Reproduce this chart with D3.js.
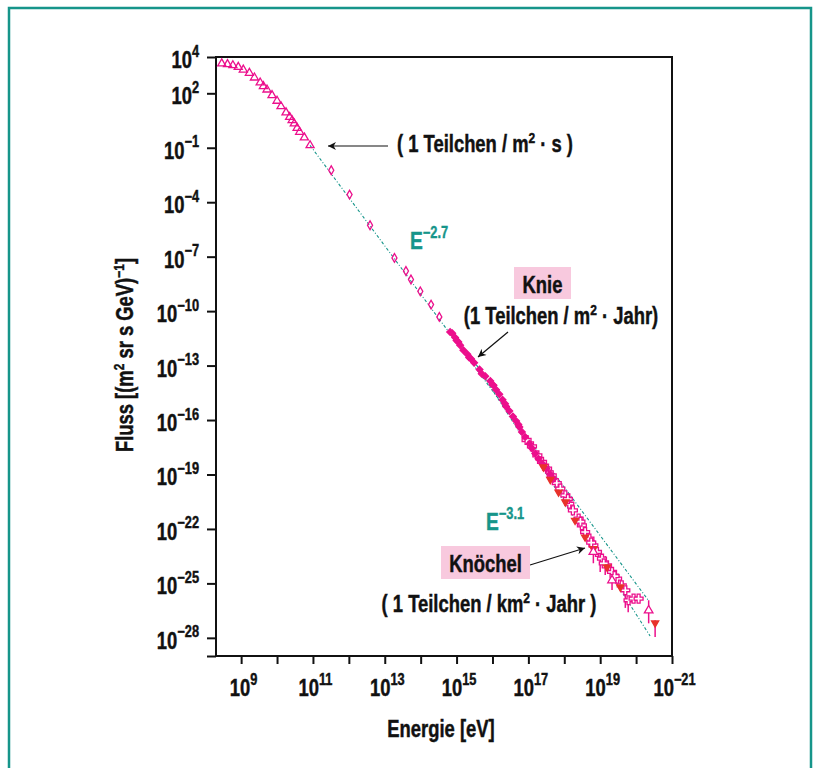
<!DOCTYPE html>
<html>
<head>
<meta charset="utf-8">
<script src="https://cdn.jsdelivr.net/npm/d3@7"></script>
<style>
  body { margin: 0; background: #fff; }
  svg text { font-family: 'Liberation Sans', Arial, Helvetica, sans-serif; font-weight: bold; }
  svg text.ink { stroke: #111; stroke-width: 0.45; }
</style>
</head>
<body>
<div id="vis-container"></div>
<script>
// values, as log10(E / eV) and log10(flux)
const lowTriangles = [
  [8.46, 3.64], [8.62, 3.60], [8.77, 3.54], [8.92, 3.45], [9.06, 3.30], [9.23, 3.12],
  [9.37, 2.86], [9.53, 2.59], [9.62, 2.39], [9.72, 2.20], [9.86, 1.89], [10.00, 1.58],
  [10.11, 1.28], [10.25, 0.94], [10.35, 0.69], [10.42, 0.51], [10.48, 0.33], [10.56, 0.09],
  [10.63, -0.13], [10.76, -0.44], [10.92, -0.87]
];
const diamonds = [
  [11.51, -2.24], [12.02, -3.58], [12.59, -5.27], [13.27, -7.07], [13.59, -7.79],
  [13.73, -8.26], [13.99, -8.91], [14.29, -9.64], [14.52, -10.32]
];
const filledPts = [
  [14.82, -11.15], [14.96, -11.46], [15.05, -11.70], [15.10, -11.88], [15.19, -12.16],
  [15.30, -12.38], [15.40, -12.62], [15.49, -12.84], [15.64, -13.22], [15.80, -13.59],
  [15.94, -13.85], [16.03, -14.09], [16.10, -14.33], [16.19, -14.58], [16.28, -14.88],
  [16.38, -15.25], [16.47, -15.50], [16.57, -15.80], [16.66, -16.06], [16.75, -16.39],
  [16.82, -16.66], [16.91, -16.94], [17.03, -17.30], [17.19, -17.85], [17.28, -18.13],
  [17.38, -18.40], [17.50, -18.68], [17.61, -18.99], [17.70, -19.23],
  [14.88, -11.22], [15.00, -11.62], [15.35, -12.55], [15.70, -13.45], [16.00, -14.05],
  [16.35, -15.10], [16.72, -16.25], [17.10, -17.55], [17.45, -18.60]
];
const openCrosses = [
  [16.95, -17.10], [17.10, -17.45], [17.25, -17.95], [17.38, -18.31], [17.52, -18.68],
  [17.65, -19.05], [17.79, -19.47], [17.89, -19.78], [18.03, -20.15], [18.14, -20.61],
  [18.24, -20.98], [18.40, -21.43], [18.49, -21.80], [18.58, -22.17], [18.70, -22.53],
  [18.81, -22.90], [18.91, -23.27], [19.05, -23.64], [19.19, -24.01], [19.33, -24.37],
  [19.47, -24.74], [19.60, -25.11], [19.70, -25.38], [19.79, -25.93], [19.93, -25.84],
  [20.07, -25.84], [18.10, -20.35], [18.45, -21.60], [18.75, -22.75], [19.10, -23.90],
  [19.40, -24.60]
];
const redTriangles = [
  [17.42, -18.59], [17.61, -19.28], [17.84, -19.97], [18.03, -20.52], [18.30, -21.53],
  [18.58, -22.45], [18.81, -23.09], [19.19, -24.10], [19.56, -25.20], [20.53, -27.18]
];
const highTriangles = [[18.81, -23.27], [19.33, -24.83], [20.35, -26.49]];
// error bars: [logE, low, high]
const errorBars = [
  [18.81, -23.89, -23.23], [19.00, -24.37, -23.34], [19.14, -24.54, -23.49],
  [19.33, -25.36, -24.70], [19.70, -26.35, -25.47], [19.78, -26.59, -25.93],
  [20.35, -27.20, -25.93], [20.53, -27.96, -27.03]
];
// power-law guide lines
const lineE27 = [[10.92, -0.87], [20.34, -25.93]];
const lineE31 = [[15.55, -12.95], [20.39, -27.90]];

const yTickExp = [4, 2, -1, -4, -7, -10, -13, -16, -19, -22, -25, -28, -29];
const yLabelText = ["4", "2", "−1", "−4", "−7", "−10", "−13", "−16", "−19", "−22", "−25", "−28", ""];
const xTickExp = [9, 10, 11, 12, 13, 14, 15, 16, 17, 18, 19, 20, 21];
const xLabelText = ["9", "", "11", "", "13", "", "15", "", "17", "", "19", "", "−21"];

const magenta = '#ec0f8c';
const red = '#e8322b';
const teal = '#16958a';
const narrow = 0.8; // horizontal squeeze to mimic a condensed face

const width = 819, height = 768;
const margin = {left: 216, top: 57, right: 147, bottom: 112};

const svg = d3.select('#vis-container').append('svg')
  .attr('width', width).attr('height', height);

// teal frame
svg.append('rect')
  .attr('x', 9).attr('y', 8).attr('width', 802).attr('height', 790)
  .attr('fill', 'none').attr('stroke', teal).attr('stroke-width', 2.5);

const x = d3.scaleLog().domain([10 ** 8.3, 1e21]).range([margin.left, width - margin.right]);
const y = d3.scaleLog().domain([1e-29, 1e4]).range([height - margin.bottom, margin.top]);
const px = d => x(10 ** d[0]);
const py = d => y(10 ** d[1]);

// y axis
const yAxis = svg.append('g')
  .attr('transform', `translate(${margin.left},0)`)
  .call(d3.axisLeft(y).tickValues(yTickExp.map(e => 10 ** e)).tickSize(9).tickFormat(''));
yAxis.select('.domain').remove();
yAxis.selectAll('.tick line').attr('stroke', '#111').attr('stroke-width', 2);
yAxis.selectAll('.tick text').each(function(d, i) {
  const t = d3.select(this).classed('ink', true).attr('dy', null).attr('x', 0).attr('y', 0)
    .attr('transform', `translate(-17,10.5) scale(${narrow},1)`)
    .attr('font-size', 23).attr('fill', '#111').attr('text-anchor', 'end');
  if (!yLabelText[i]) return;
  t.append('tspan').text('10');
  t.append('tspan').attr('dy', -11.5).attr('font-size', 16).text(yLabelText[i]);
});

// x axis
const xAxis = svg.append('g')
  .attr('transform', `translate(0,${height - margin.bottom})`)
  .call(d3.axisBottom(x).tickValues(xTickExp.map(e => 10 ** e)).tickSize(8).tickFormat(''));
xAxis.select('.domain').remove();
xAxis.selectAll('.tick line').attr('stroke', '#111').attr('stroke-width', 2);
xAxis.selectAll('.tick text').each(function(d, i) {
  const t = d3.select(this).classed('ink', true).attr('dy', null).attr('y', 0)
    .attr('transform', `translate(2,40) scale(${narrow},1)`)
    .attr('font-size', 23).attr('fill', '#111').attr('text-anchor', 'middle');
  if (!xLabelText[i]) return;
  t.append('tspan').text('10');
  t.append('tspan').attr('dy', -11.5).attr('font-size', 16).text(xLabelText[i]);
});

// plot frame
svg.append('rect')
  .attr('x', margin.left).attr('y', margin.top)
  .attr('width', width - margin.left - margin.right)
  .attr('height', height - margin.top - margin.bottom)
  .attr('fill', 'none').attr('stroke', '#111').attr('stroke-width', 2);

// axis titles
svg.append('text').classed('ink', true)
  .attr('transform', `translate(133,355) rotate(-90) scale(${narrow},1)`)
  .attr('text-anchor', 'middle').attr('font-size', 23).attr('fill', '#111')
  .call(t => {
    t.append('tspan').text('Fluss [(m');
    t.append('tspan').attr('dy', -9).attr('font-size', 15).text('2');
    t.append('tspan').attr('dy', 9).text(' sr s GeV)');
    t.append('tspan').attr('dy', -9).attr('font-size', 15).text('−1');
    t.append('tspan').attr('dy', 9).text(']');
  });
svg.append('text').classed('ink', true)
  .attr('transform', `translate(441,737) scale(${narrow},1)`)
  .attr('text-anchor', 'middle').attr('font-size', 23).attr('fill', '#111')
  .text('Energie [eV]');

// guide lines
const line = d3.line().x(px).y(py);
[lineE27, lineE31].forEach(l => {
  svg.append('path').attr('d', line(l))
    .attr('fill', 'none').attr('stroke', teal).attr('stroke-width', 1.1)
    .attr('stroke-dasharray', '3,2,1,2');
});

// error bars
svg.append('g').selectAll('line').data(errorBars).enter().append('line')
  .attr('x1', d => x(10 ** d[0])).attr('x2', d => x(10 ** d[0]))
  .attr('y1', d => y(10 ** d[1])).attr('y2', d => y(10 ** d[2]))
  .attr('stroke', magenta).attr('stroke-width', 1.5);

function marks(data, type, size, fill, stroke, rotate) {
  svg.append('g').selectAll('path').data(data).enter().append('path')
    .attr('d', d3.symbol().type(type).size(size))
    .attr('transform', d => `translate(${px(d)},${py(d)}) rotate(${rotate || 0})`)
    .attr('fill', fill).attr('stroke', stroke).attr('stroke-width', 1.3);
}
marks(lowTriangles, d3.symbolTriangle, 28, 'none', magenta);
marks(diamonds, d3.symbolDiamond, 22, 'none', magenta);
marks(openCrosses, d3.symbolCross, 44, 'white', magenta);
marks(filledPts, d3.symbolSquare, 22, magenta, magenta, 45);
marks(redTriangles, d3.symbolTriangle, 22, red, red, 180);
marks(highTriangles, d3.symbolTriangle, 32, 'white', magenta);

// annotations
svg.append('defs').append('marker')
  .attr('id', 'arr').attr('viewBox', '0 0 10 10').attr('refX', 10).attr('refY', 5)
  .attr('markerWidth', 13).attr('markerHeight', 8).attr('markerUnits', 'userSpaceOnUse')
  .attr('orient', 'auto')
  .append('path').attr('d', 'M0,0L10,5L0,10L3,5Z').attr('fill', '#111');

const arrows = [
  [[388, 146], [328, 146]],
  [[508, 332], [478, 357]],
  [[530, 565], [585, 548]]
];
arrows.forEach(a => {
  svg.append('line')
    .attr('x1', a[0][0]).attr('y1', a[0][1]).attr('x2', a[1][0]).attr('y2', a[1][1])
    .attr('stroke', '#111').attr('stroke-width', 1.2).attr('marker-end', 'url(#arr)');
});

function note(xc, yb, parts, size) {
  const t = svg.append('text').classed('ink', true)
    .attr('transform', `translate(${xc},${yb}) scale(${narrow},1)`)
    .attr('text-anchor', 'middle').attr('font-size', size || 23).attr('fill', '#111');
  parts.forEach(p => {
    if (p.sup) {
      t.append('tspan').attr('dy', -9).attr('font-size', 15).text(p.sup);
    } else {
      t.append('tspan').attr('dy', p.back ? 9 : 0).text(p.text);
    }
  });
  return t;
}
note(485, 152, [{text: '( 1 Teilchen / m'}, {sup: '2'}, {text: ' · s )', back: true}]);

svg.append('rect').attr('x', 514).attr('y', 267).attr('width', 57).attr('height', 32).attr('fill', '#f8c9de');
note(542.5, 293, [{text: 'Knie'}]);
note(561, 324, [{text: '(1 Teilchen / m'}, {sup: '2'}, {text: ' · Jahr)', back: true}]);

svg.append('rect').attr('x', 441).attr('y', 546).attr('width', 89).attr('height', 33).attr('fill', '#f8c9de');
note(485.5, 572, [{text: 'Knöchel'}]);
note(489, 612, [{text: '( 1 Teilchen / km'}, {sup: '2'}, {text: ' · Jahr )', back: true}]);

// power-law labels
[[410, 249, '−2.7'], [486, 530, '−3.1']].forEach(p => {
  const t = svg.append('text')
    .attr('transform', `translate(${p[0]},${p[1]}) scale(${narrow},1)`)
    .attr('font-size', 24).attr('fill', teal).attr('stroke', teal).attr('stroke-width', 0.4);
  t.append('tspan').text('E');
  t.append('tspan').attr('dy', -11).attr('font-size', 16).text(p[2]);
});
</script>
</body>
</html>
